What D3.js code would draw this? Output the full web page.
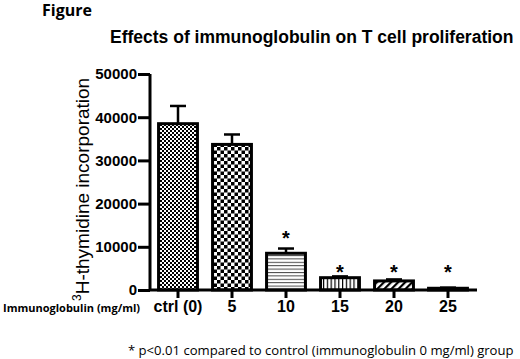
<!DOCTYPE html>
<html>
<head>
<meta charset="utf-8">
<script src="https://d3js.org/d3.v7.min.js"></script>
<style>
  body { margin: 0; background: #fff; }
  svg { display: block; }
</style>
</head>
<body>
<script>
// data
const doses = ["ctrl (0)", "5", "10", "15", "20", "25"];
const means = [38500, 33700, 8500, 2850, 2100, 400];
const errs = [4100, 2300, 1100, 300, 350, 150];
const starLevel = [null, null, 12700, 4850, 4850, 4850];   // where the * sits
const fills = ["checkFine", "checkCoarse", "hLines", "vLines", "diag", "solid"];
const yTicks = [0, 10000, 20000, 30000, 40000, 50000];

const W = 520, H = 359;
const svg = d3.select("body").append("svg")
    .attr("width", W).attr("height", H);

// patterns
const defs = svg.append("defs");
let p = defs.append("pattern").attr("id", "checkFine").attr("patternUnits", "userSpaceOnUse")
    .attr("width", 4).attr("height", 4);
p.append("rect").attr("width", 4).attr("height", 4).attr("fill", "#fff");
p.append("rect").attr("width", 2).attr("height", 2).attr("fill", "#000");
p.append("rect").attr("x", 2).attr("y", 2).attr("width", 2).attr("height", 2).attr("fill", "#000");

p = defs.append("pattern").attr("id", "checkCoarse").attr("patternUnits", "userSpaceOnUse")
    .attr("width", 7).attr("height", 7);
p.append("rect").attr("width", 7).attr("height", 7).attr("fill", "#fff");
p.append("rect").attr("width", 3.5).attr("height", 3.5).attr("fill", "#000");
p.append("rect").attr("x", 3.5).attr("y", 3.5).attr("width", 3.5).attr("height", 3.5).attr("fill", "#000");

p = defs.append("pattern").attr("id", "hLines").attr("patternUnits", "userSpaceOnUse")
    .attr("width", 10).attr("height", 3.4);
p.append("rect").attr("width", 10).attr("height", 3.4).attr("fill", "#fff");
p.append("rect").attr("width", 10).attr("height", 1).attr("fill", "#444");

p = defs.append("pattern").attr("id", "vLines").attr("patternUnits", "userSpaceOnUse")
    .attr("width", 3.8).attr("height", 10);
p.append("rect").attr("width", 3.8).attr("height", 10).attr("fill", "#fff");
p.append("rect").attr("width", 1.2).attr("height", 10).attr("fill", "#000");

p = defs.append("pattern").attr("id", "diag").attr("patternUnits", "userSpaceOnUse")
    .attr("width", 5).attr("height", 5).attr("patternTransform", "rotate(45)");
p.append("rect").attr("width", 5).attr("height", 5).attr("fill", "#fff");
p.append("rect").attr("width", 2.2).attr("height", 5).attr("fill", "#000");

// scales
const x = d3.scaleBand().domain(doses).range([151, 475])
    .paddingInner(0.28).paddingOuter(0.14);
const y = d3.scaleLinear().domain([0, 50000]).range([290, 74]);

// titles
svg.append("text").attr("x", 42).attr("y", 16)
    .style("font-family", "'Open Sans', 'Noto Sans', sans-serif")
    .style("font-weight", "bold").style("font-size", "16px")
    .text("Figure");
svg.append("text").attr("x", 110).attr("y", 43)
    .style("font-family", "'Liberation Sans', Arial, sans-serif")
    .style("font-weight", "bold").style("font-size", "17.5px")
    .text("Effects of immunoglobulin on T cell proliferation");

// bars
const bars = svg.append("g");
bars.selectAll("rect").data(doses).join("rect")
    .attr("x", d => x(d))
    .attr("y", (d, i) => y(means[i]))
    .attr("width", x.bandwidth())
    .attr("height", (d, i) => y(0) - y(means[i]))
    .attr("fill", (d, i) => fills[i] === "solid" ? "#000" : `url(#${fills[i]})`)
    .attr("stroke", "#000").attr("stroke-width", 3);

// error bars (upper only)
const eb = svg.append("g").attr("stroke", "#000").attr("stroke-width", 2.5);
doses.forEach((d, i) => {
  const cx = x(d) + x.bandwidth() / 2;
  eb.append("line").attr("x1", cx).attr("x2", cx)
      .attr("y1", y(means[i])).attr("y2", y(means[i] + errs[i]));
  eb.append("line").attr("x1", cx - 8).attr("x2", cx + 8)
      .attr("y1", y(means[i] + errs[i])).attr("y2", y(means[i] + errs[i]));
});

// significance stars
svg.append("g").selectAll("text").data(doses).join("text")
    .filter((d, i) => starLevel[i] !== null)
    .attr("x", d => x(d) + x.bandwidth() / 2)
    .attr("y", d => y(starLevel[doses.indexOf(d)]) + 10)
    .attr("text-anchor", "middle")
    .style("font-family", "'Liberation Sans', Arial, sans-serif")
    .style("font-weight", "bold").style("font-size", "20px")
    .text("*");

// axes
const yAxis = svg.append("g").attr("transform", "translate(150,0)")
    .call(d3.axisLeft(y).tickValues(yTicks).tickFormat(d3.format("d"))
      .tickSize(12).tickPadding(1).tickSizeOuter(0));
const xAxis = svg.append("g").attr("transform", "translate(0,290)")
    .call(d3.axisBottom(x).tickSize(8).tickPadding(3).tickSizeOuter(0));
xAxis.select(".domain").attr("d", "M150,0H477");

[yAxis, xAxis].forEach(a => {
  a.selectAll(".domain, line").attr("stroke", "#000").attr("stroke-width", 3);
  a.selectAll("text").attr("fill", "#000")
      .style("font-family", "'Liberation Sans', Arial, sans-serif")
      .style("font-weight", "bold").style("font-size", "15px");
});
xAxis.selectAll("text").attr("dy", "0.71em").style("font-size", "16px");
yAxis.select(".domain").attr("d", "M0,290V74");

// y axis label
const yl = svg.append("text")
    .attr("transform", "translate(89,301) rotate(-90)")
    .style("font-family", "'Liberation Sans', Arial, sans-serif")
    .style("font-size", "19px");
yl.append("tspan").attr("dy", "-8").style("font-size", "12px").text("3");
yl.append("tspan").attr("dy", "8").text("H-thymidine incorporation");

// x axis caption
svg.append("text").attr("x", 3).attr("y", 312)
    .style("font-family", "'Open Sans', 'Noto Sans', sans-serif")
    .style("font-weight", "bold").style("font-size", "11px")
    .text("Immunoglobulin (mg/ml)");

// footnote, sized to span the same width as in the figure
const foot = svg.append("text").attr("x", 128).attr("y", 355)
    .style("font-family", "'Open Sans', 'Noto Sans', sans-serif")
    .style("font-size", "12px")
    .text("* p<0.01 compared to control (immunoglobulin 0 mg/ml) group");
const fw = foot.node().getComputedTextLength();
foot.style("font-size", (12 * 386 / fw) + "px");
</script>
</body>
</html>
